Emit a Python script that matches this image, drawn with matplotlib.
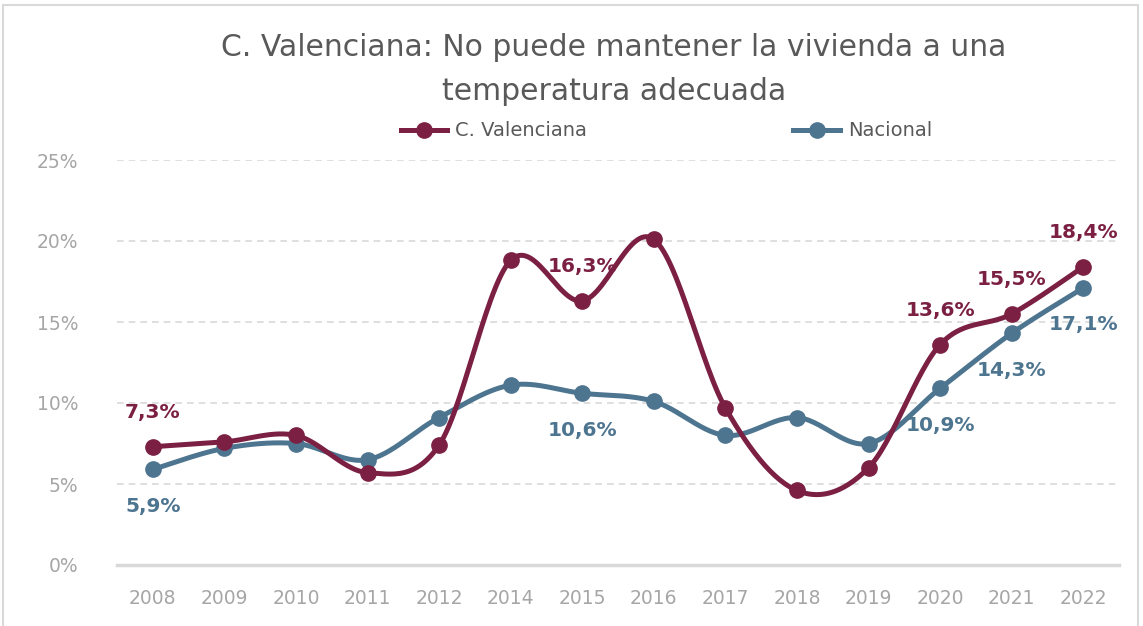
import numpy as np
import matplotlib
matplotlib.use("Agg")
import matplotlib.pyplot as plt
from matplotlib.lines import Line2D
from matplotlib.patches import Rectangle

# datos
anios = ["2008", "2009", "2010", "2011", "2012", "2014", "2015", "2016",
         "2017", "2018", "2019", "2020", "2021", "2022"]
valenciana = [7.3, 7.6, 8.0, 5.7, 7.4, 18.8, 16.3, 20.1, 9.7, 4.6, 6.0, 13.6, 15.5, 18.4]
nacional = [5.9, 7.2, 7.5, 6.5, 9.1, 11.1, 10.6, 10.1, 8.0, 9.1, 7.5, 10.9, 14.3, 17.1]

# etiquetas visibles (indice -> texto)
etiq_val = {0: "7,3%", 6: "16,3%", 11: "13,6%", 12: "15,5%", 13: "18,4%"}
etiq_nac = {0: "5,9%", 6: "10,6%", 11: "10,9%", 12: "14,3%", 13: "17,1%"}

c_val = "#7B2042"
c_nac = "#4E7590"


def suavizar(x, y, n=30):
    # curva tipo Excel (Bezier con puntos de control de Catmull-Rom)
    x = np.asarray(x, float)
    y = np.asarray(y, float)
    px = np.concatenate([[x[0]], x, [x[-1]]])
    py = np.concatenate([[y[0]], y, [y[-1]]])
    xs, ys = [], []
    t = np.linspace(0, 1, n)
    for i in range(1, len(px) - 2):
        p0 = np.array([px[i], py[i]])
        p3 = np.array([px[i + 1], py[i + 1]])
        p1 = p0 + (np.array([px[i + 1], py[i + 1]]) - np.array([px[i - 1], py[i - 1]])) / 6
        p2 = p3 - (np.array([px[i + 2], py[i + 2]]) - np.array([px[i], py[i]])) / 6
        b = ((1 - t) ** 3)[:, None] * p0 + (3 * (1 - t) ** 2 * t)[:, None] * p1 \
            + (3 * (1 - t) * t ** 2)[:, None] * p2 + (t ** 3)[:, None] * p3
        xs.extend(b[:, 0])
        ys.extend(b[:, 1])
    return np.array(xs), np.array(ys)


fig = plt.figure(figsize=(11.43, 6.26), dpi=100)
ax = fig.add_axes([117 / 1143, 1 - 565 / 626, (1119 - 117) / 1143, (565 - 160) / 626])

x = np.arange(len(anios))
for datos, color in [(nacional, c_nac), (valenciana, c_val)]:
    sx, sy = suavizar(x, datos)
    ax.plot(sx, sy, color=color, lw=3.6, solid_capstyle="round", zorder=3)
    ax.plot(x, datos, "o", color=color, ms=11, zorder=4)

for i, txt in etiq_val.items():
    ax.annotate(txt, (x[i], valenciana[i]), xytext=(0, 34), textcoords="offset pixels",
                ha="center", va="center", fontsize=14.5, fontweight="bold", color=c_val, zorder=5)
for i, txt in etiq_nac.items():
    ax.annotate(txt, (x[i], nacional[i]), xytext=(0, -37), textcoords="offset pixels",
                ha="center", va="center", fontsize=14.5, fontweight="bold", color=c_nac, zorder=5)

ax.set_xlim(-0.5, len(anios) - 0.5)
ax.set_ylim(0, 25)
ax.set_yticks([0, 5, 10, 15, 20, 25])
ax.set_yticklabels(["0%", "5%", "10%", "15%", "20%", "25%"])
ax.set_xticks(x)
ax.set_xticklabels(anios)
ax.tick_params(axis="both", length=0, labelsize=13.5, colors="#A6A6A6")
ax.tick_params(axis="x", pad=17)
ax.tick_params(axis="y", pad=28)
for y in [5, 10, 15, 20, 25]:
    ax.axhline(y, color="#D9D9D9", lw=1.2, ls=(0, (4, 3)), zorder=1)
for s in ["top", "right", "left"]:
    ax.spines[s].set_visible(False)
ax.spines["bottom"].set_color("#D9D9D9")
ax.spines["bottom"].set_linewidth(2.5)

fig.text(0.537, 1 - 48 / 626, "C. Valenciana: No puede mantener la vivienda a una",
         ha="center", va="center", fontsize=21.5, color="#595959")
fig.text(0.537, 1 - 92 / 626, "temperatura adecuada",
         ha="center", va="center", fontsize=21.5, color="#595959")

h1 = Line2D([], [], color=c_val, lw=3.6, marker="o", ms=11)
h2 = Line2D([], [], color=c_nac, lw=3.6, marker="o", ms=11)
fig.legend([h1, h2], ["C. Valenciana", "Nacional"], ncol=2, frameon=False,
           loc="center", bbox_to_anchor=(0.583, 1 - 131 / 626), fontsize=14,
           columnspacing=10.6, handlelength=2.4, handletextpad=0.4, labelcolor="#595959")

fig.patches.append(Rectangle((3 / 1143, -0.01), 1135 / 1143, 1 - 5 / 626 + 0.01,
                             transform=fig.transFigure, fill=False, ec="#D9D9D9", lw=1.5))

fig.savefig("out.png", dpi=100)
